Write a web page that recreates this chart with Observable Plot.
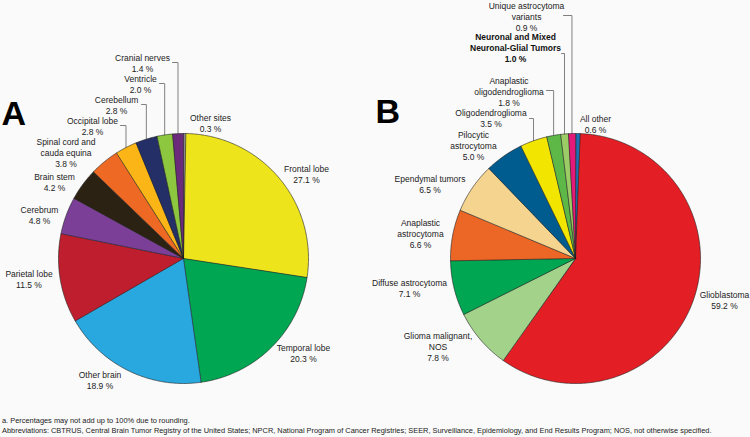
<!DOCTYPE html>
<html>
<head>
<meta charset="utf-8">
<script src="https://cdn.jsdelivr.net/npm/d3@7"></script>
<script src="https://cdn.jsdelivr.net/npm/@observablehq/plot@0.6"></script>
<style>
  html, body { margin: 0; padding: 0; background: #fafafa; }
  body { width: 750px; height: 437px; overflow: hidden; font-family: "Liberation Sans", Arial, sans-serif; }
  #notes { font-size: 7.42px; line-height: 10px; color: #222; padding-left: 2px; margin-top: 2px; white-space: nowrap; }
</style>
</head>
<body>
<div id="chart"></div>
<div id="notes">
  <div>a. Percentages may not add up to 100% due to rounding.</div>
  <div>Abbreviations: CBTRUS, Central Brain Tumor Registry of the United States; NPCR, National Program of Cancer Registries; SEER, Surveillance, Epidemiology, and End Results Program; NOS, not otherwise specified.</div>
</div>
<script>
// ---------- DATA ----------
// Panel A: tumor site (clockwise from 12 o'clock)
const sitesA = ["Other sites", "Frontal lobe", "Temporal lobe", "Other brain", "Parietal lobe", "Cerebrum",
  "Brain stem", "Spinal cord and cauda equina", "Occipital lobe", "Cerebellum", "Ventricle", "Cranial nerves"];
const pctA = [0.3, 27.1, 20.3, 18.9, 11.5, 4.8, 4.2, 3.8, 2.8, 2.8, 2.0, 1.4];

// Panel B: histology (clockwise from 12 o'clock)
const histB = ["All other", "Glioblastoma", "Glioma malignant, NOS", "Diffuse astrocytoma", "Anaplastic astrocytoma",
  "Ependymal tumors", "Pilocytic astrocytoma", "Oligodendroglioma", "Anaplastic oligodendroglioma",
  "Neuronal and Mixed Neuronal-Glial Tumors", "Unique astrocytoma variants"];
const pctB = [0.6, 59.2, 7.8, 7.1, 6.6, 6.5, 5.0, 3.5, 1.8, 1.0, 0.9];

// ---------- STYLES ----------
const colorsA = ["#a7a9ac", "#ede41b", "#00a651", "#29a8e0", "#be1e2d", "#7b3f98",
  "#2b2214", "#ee6a24", "#fbb517", "#232f66", "#8dc63f", "#6a2c7a"];
const colorsB = ["#1f6fb5", "#e31e24", "#a3d28a", "#00a651", "#ec6725",
  "#f5d48f", "#005b8e", "#f2e500", "#5db847", "#9ccc65", "#e5197a"];

// label wrapping (display text)
const wrapA = {"Spinal cord and cauda equina": "Spinal cord and\ncauda equina"};
const wrapB = {
  "Glioma malignant, NOS": "Glioma malignant,\nNOS",
  "Anaplastic astrocytoma": "Anaplastic\nastrocytoma",
  "Pilocytic astrocytoma": "Pilocytic\nastrocytoma",
  "Anaplastic oligodendroglioma": "Anaplastic\noligodendroglioma",
  "Neuronal and Mixed Neuronal-Glial Tumors": "Neuronal and Mixed\nNeuronal-Glial Tumors",
  "Unique astrocytoma variants": "Unique astrocytoma\nvariants"
};
const boldB = ["Neuronal and Mixed Neuronal-Glial Tumors"];

// ---------- LAYOUT ----------
const W = 750, H = 414;
const pieA = {cx: 183, cy: 258, r: 125};
const pieB = {cx: 575, cy: 258, r: 125};
// label block centres, offsets from pie centre (same order as data)
const labelOffA = [[27,-135.5],[123,-84.5],[120,94.5],[-83.5,121],[-154.5,20.5],[-144,-43.5],
  [-129,-77],[-117.5,-106],[-91,-132.5],[-67,-154],[-43,-174.5],[-41,-195.5]];
const labelOffB = [[20,-135],[149,41.5],[-137.5,88],[-166,29.5],[-155,-25],[-145.5,-74.5],
  [-102,-113],[-84.5,-140.5],[-66.5,-167],[-60,-211],[-49,-242.5]];
// leader lines: [start x offset, horizontal y offset]
const leaderA = {"Occipital lobe": [-63,-133], "Cerebellum": [-42,-154], "Ventricle": [-24,-175], "Cranial nerves": [-11,-196]};
const leaderB = {"Oligodendroglioma": [-46,-140], "Anaplastic oligodendroglioma": [-29,-168],
  "Neuronal and Mixed Neuronal-Glial Tumors": [-14,-205], "Unique astrocytoma variants": [-12,-243]};

// ---------- BUILD ----------
function build(pie, names, values, colors, wrap, offs, leaders, tag) {
  const arcs = d3.pie().sort(null).startAngle(0).endAngle(2 * Math.PI)(values);
  const slices = [], labels = [], lines = [];
  arcs.forEach((a, i) => {
    const key = tag + i;
    slices.push({key, color: colors[i], x: pie.cx, y: pie.cy});
    const n = Math.max(2, Math.ceil((a.endAngle - a.startAngle) / 0.01));
    for (let k = 0; k <= n; k++) {
      const t = a.startAngle + (a.endAngle - a.startAngle) * k / n;
      slices.push({key, color: colors[i], x: pie.cx + pie.r * Math.sin(t), y: pie.cy - pie.r * Math.cos(t)});
    }
    const name = names[i];
    labels.push({name, text: (wrap[name] || name) + "\n" + values[i].toFixed(1) + " %",
      x: pie.cx + offs[i][0], y: pie.cy + offs[i][1]});
    if (leaders[name]) {
      const mid = (a.startAngle + a.endAngle) / 2;
      const ex = pie.cx + pie.r * Math.sin(mid), ey = pie.cy - pie.r * Math.cos(mid);
      const [sx, ly] = leaders[name];
      lines.push({key, x: pie.cx + sx, y: pie.cy + ly});
      lines.push({key, x: ex, y: pie.cy + ly});
      lines.push({key, x: ex, y: ey});
    }
  });
  return {slices, labels, lines};
}

const A = build(pieA, sitesA, pctA, colorsA, wrapA, labelOffA, leaderA, "A");
const B = build(pieB, histB, pctB, colorsB, wrapB, labelOffB, leaderB, "B");
const slices = A.slices.concat(B.slices);
const lines = A.lines.concat(B.lines);
const labels = A.labels.concat(B.labels);
const panels = [{t: "A", x: 1, y: 114}, {t: "B", x: 375, y: 112}];

const chart = Plot.plot({
  width: W, height: H, margin: 0,
  x: {domain: [0, W], range: [0, W], axis: null},
  y: {domain: [0, H], range: [0, H], axis: null},
  color: {type: "identity"},
  style: {background: "#fafafa", fontFamily: "'Liberation Sans', Arial, sans-serif", overflow: "visible"},
  marks: [
    Plot.line(lines, {x: "x", y: "y", z: "key", stroke: "#808080", strokeWidth: 1, curve: "linear"}),
    Plot.line(slices, {x: "x", y: "y", z: "key", fill: "color", stroke: "#1e1e1e", strokeWidth: 0.6, curve: "linear-closed"}),
    Plot.text(labels.filter(d => !boldB.includes(d.name)), {x: "x", y: "y", text: "text", fontSize: 8.5, lineHeight: 1.3, textAnchor: "middle", lineAnchor: "middle", fill: "#222"}),
    Plot.text(labels.filter(d => boldB.includes(d.name)), {x: "x", y: "y", text: "text", fontSize: 8.5, lineHeight: 1.3, textAnchor: "middle", lineAnchor: "middle", fill: "#111", fontWeight: "bold"}),
    Plot.text(panels, {x: "x", y: "y", text: "t", fontSize: 34, fontWeight: "bold", textAnchor: "start", lineAnchor: "middle", fill: "#000"})
  ]
});
document.getElementById("chart").appendChild(chart);
</script>
</body>
</html>
